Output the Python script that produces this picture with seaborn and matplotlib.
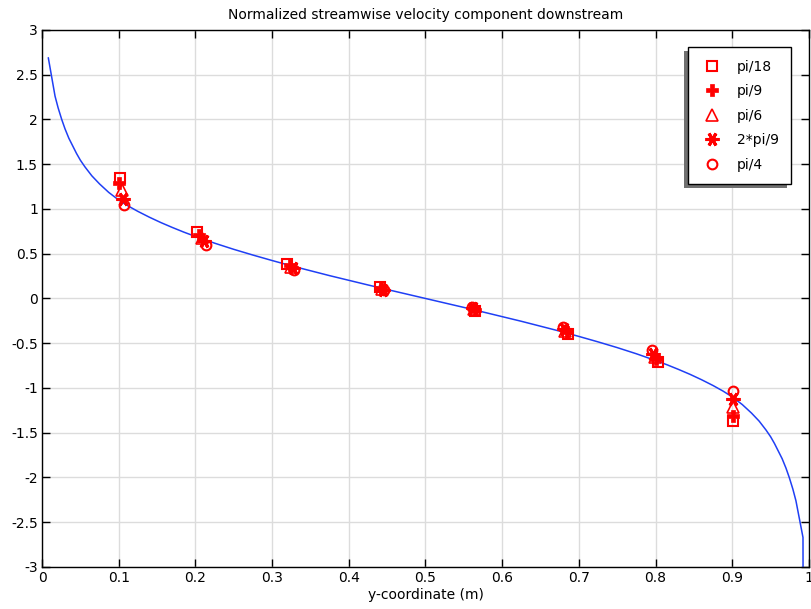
import matplotlib
matplotlib.use("Agg")
import matplotlib.pyplot as plt
import pandas as pd
import seaborn as sns
from matplotlib.patches import Rectangle
from matplotlib.ticker import FuncFormatter, MultipleLocator

# simulated profile (blue line)
curve_x = [0.0082, 0.017, 0.021, 0.0257, 0.03, 0.035, 0.04, 0.045, 0.05, 0.056,
           0.065, 0.075, 0.087, 0.1, 0.112, 0.125, 0.14, 0.155, 0.17, 0.185, 0.2,
           0.225, 0.25, 0.275, 0.3, 0.325, 0.35, 0.375, 0.4, 0.425, 0.45, 0.475, 0.5,
           0.525, 0.55, 0.575, 0.6, 0.625, 0.65, 0.675, 0.7, 0.725, 0.75, 0.775, 0.8,
           0.815, 0.83, 0.845, 0.86, 0.875, 0.888, 0.9, 0.913, 0.925, 0.935, 0.944,
           0.95, 0.955, 0.96, 0.965, 0.97, 0.9743, 0.979, 0.983, 0.9922, 0.9924]
curve_y = [2.69, 2.26, 2.13, 2.0, 1.895, 1.79, 1.705, 1.62, 1.545, 1.47,
           1.37, 1.28, 1.185, 1.1, 1.035, 0.973, 0.908, 0.848, 0.793, 0.741, 0.693,
           0.618, 0.549, 0.485, 0.424, 0.365, 0.31, 0.255, 0.203, 0.151, 0.1, 0.05, 0.0,
           -0.05, -0.1, -0.151, -0.203, -0.255, -0.31, -0.365, -0.424, -0.485, -0.549,
           -0.618, -0.693, -0.741, -0.793, -0.848, -0.908, -0.973, -1.035, -1.1, -1.185,
           -1.28, -1.37, -1.47, -1.545, -1.62, -1.705, -1.79, -1.895, -2.0, -2.13, -2.26,
           -2.67, -3.6]

# measured points per angle
labels = ["pi/18", "pi/9", "pi/6", "2*pi/9", "pi/4"]
pts_x = {
    "pi/18":  [0.102, 0.202, 0.320, 0.441, 0.565, 0.686, 0.803, 0.901],
    "pi/9":   [0.101, 0.205, 0.323, 0.442, 0.564, 0.684, 0.801, 0.901],
    "pi/6":   [0.104, 0.208, 0.325, 0.443, 0.563, 0.682, 0.799, 0.901],
    "2*pi/9": [0.106, 0.211, 0.327, 0.444, 0.562, 0.680, 0.797, 0.901],
    "pi/4":   [0.107, 0.214, 0.329, 0.446, 0.561, 0.679, 0.795, 0.901],
}
pts_y = {
    "pi/18":  [1.35, 0.74, 0.39, 0.13, -0.14, -0.40, -0.71, -1.37],
    "pi/9":   [1.29, 0.71, 0.37, 0.12, -0.13, -0.38, -0.68, -1.31],
    "pi/6":   [1.21, 0.68, 0.35, 0.11, -0.12, -0.36, -0.65, -1.21],
    "2*pi/9": [1.11, 0.64, 0.34, 0.10, -0.11, -0.34, -0.62, -1.12],
    "pi/4":   [1.04, 0.60, 0.32, 0.09, -0.10, -0.32, -0.58, -1.03],
}

styles = {
    "pi/18":  dict(marker="s", markerfacecolor="none", markersize=7, markeredgewidth=1.5),
    "pi/9":   dict(marker="P", markerfacecolor="red", markersize=8, markeredgewidth=0.5),
    "pi/6":   dict(marker="^", markerfacecolor="none", markersize=8, markeredgewidth=1.2),
    "2*pi/9": dict(marker=(6, 2, 90), markerfacecolor="red", markersize=10, markeredgewidth=2.2),
    "pi/4":   dict(marker="o", markerfacecolor="none", markersize=7, markeredgewidth=1.5),
}

sns.set_theme(style="whitegrid")
plt.rcParams["font.family"] = ["DejaVu Sans"]
plt.rcParams["axes.unicode_minus"] = False
plt.rcParams["text.color"] = "black"
plt.rcParams["xtick.color"] = "black"
plt.rcParams["ytick.color"] = "black"
plt.rcParams["axes.labelcolor"] = "black"

fig = plt.figure(figsize=(8.11, 6.09), dpi=100)
ax = fig.add_axes([0.0518, 0.069, 0.9457, 0.8818])

curve = pd.DataFrame({"x": curve_x, "y": curve_y})
sns.lineplot(data=curve, x="x", y="y", sort=False, estimator=None,
             color="#1f3ff5", linewidth=1.1, ax=ax)

for lab in labels:
    df = pd.DataFrame({"x": pts_x[lab], "y": pts_y[lab]})
    sns.lineplot(data=df, x="x", y="y", sort=False, estimator=None, linestyle="",
                 color="red", markeredgecolor="red", label=lab, ax=ax, **styles[lab])

ax.set_xlim(0, 1)
ax.set_ylim(-3, 3)
ax.xaxis.set_major_locator(MultipleLocator(0.1))
ax.yaxis.set_major_locator(MultipleLocator(0.5))
fmt = FuncFormatter(lambda v, _: f"{v:g}")
ax.xaxis.set_major_formatter(fmt)
ax.yaxis.set_major_formatter(fmt)
ax.tick_params(direction="in", length=6, width=1, color="black", labelsize=10,
               top=True, right=True, bottom=True, left=True, pad=3)
ax.grid(True, color="#dcdcdc", linewidth=1)
for s in ax.spines.values():
    s.set_color("black")
    s.set_linewidth(1)

ax.set_title("Normalized streamwise velocity component downstream", fontsize=10, pad=8)
ax.set_xlabel("y-coordinate (m)", fontsize=10, labelpad=2)
ax.set_ylabel("")

leg = ax.legend(loc="upper right", bbox_to_anchor=(0.977, 0.968), fontsize=10,
                frameon=True, fancybox=False, shadow=False,
                edgecolor="black", framealpha=1, borderpad=0.9, labelspacing=0.76,
                handlelength=1.6, handletextpad=1.0, borderaxespad=0)
leg.get_frame().set_linewidth(1)

# shadow offset to the lower left, as in the reference
fig.canvas.draw()
bb = leg.get_window_extent().transformed(fig.transFigure.inverted())
shadow = Rectangle((bb.x0 - 4 / 811, bb.y0 - 4 / 609), bb.width, bb.height,
                   transform=fig.transFigure, facecolor="#707070", edgecolor="none",
                   zorder=leg.get_zorder() - 0.1)
ax.add_artist(shadow)
shadow.set_clip_on(False)

fig.savefig("out.png", dpi=100)
